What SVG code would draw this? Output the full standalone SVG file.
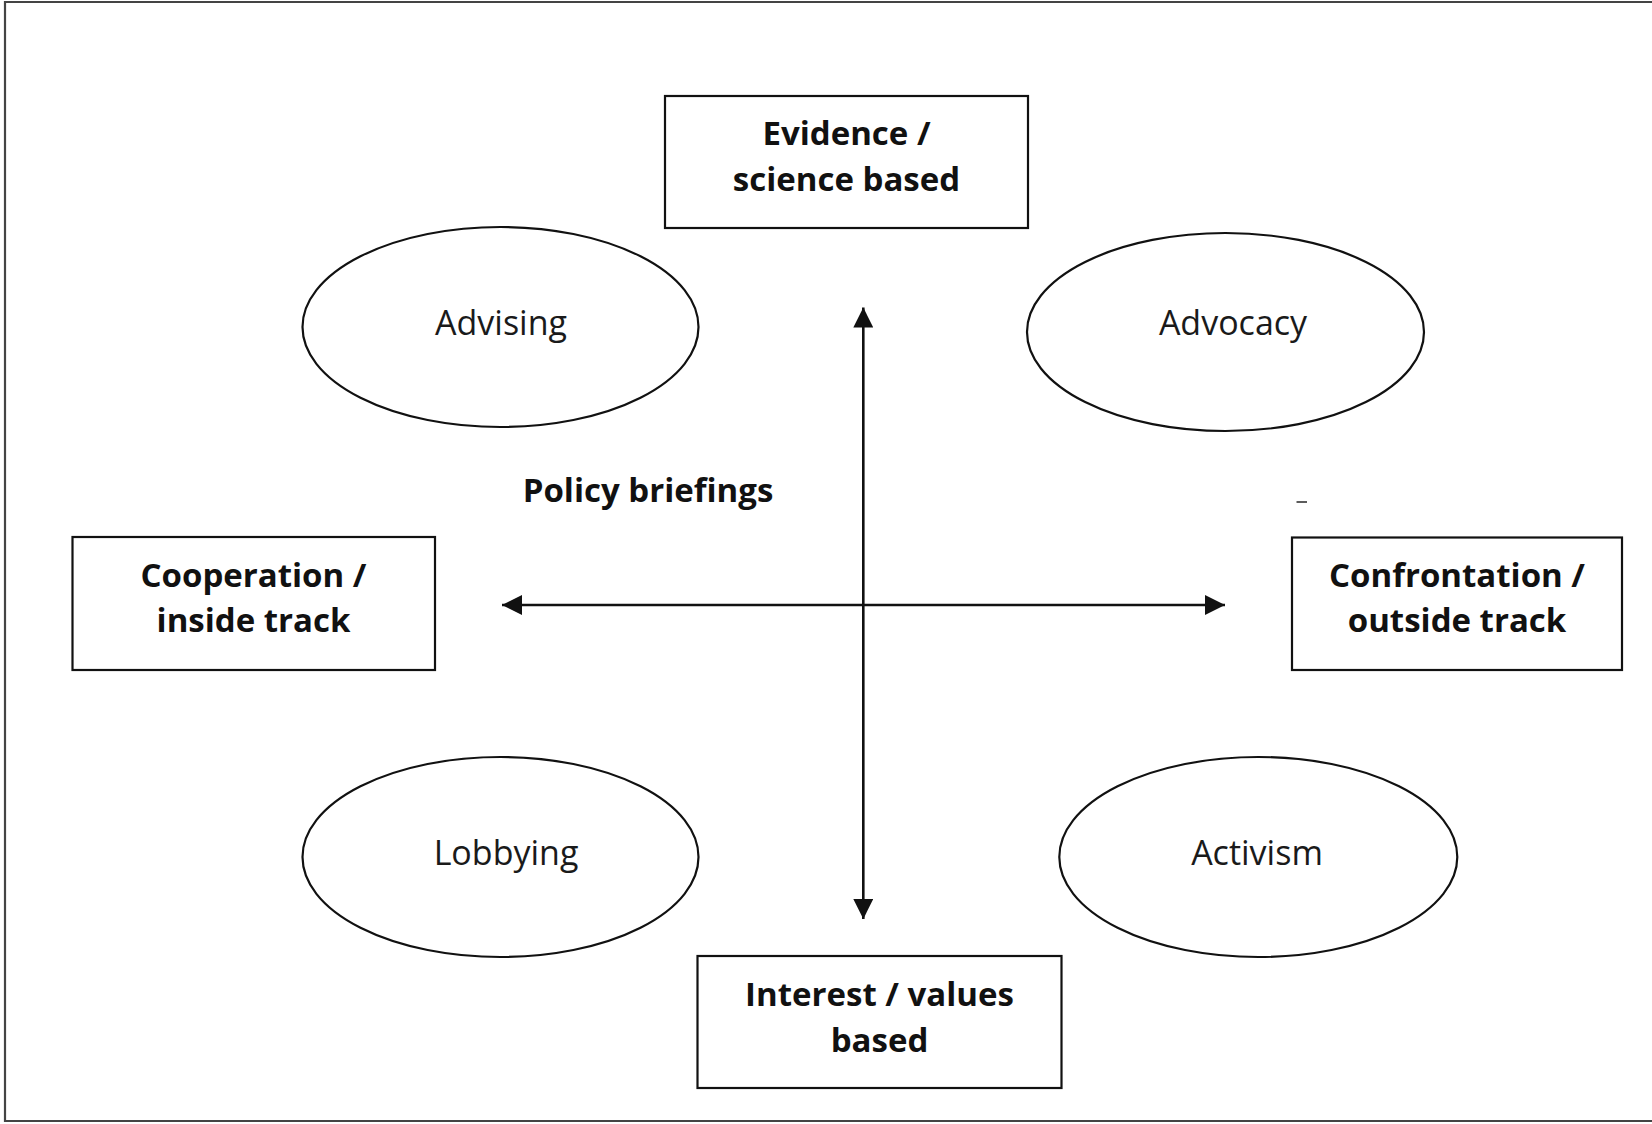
<svg xmlns="http://www.w3.org/2000/svg" width="1652" height="1124" viewBox="0 0 1652 1124">
<style>
  .box { fill: #ffffff; stroke: #111111; stroke-width: 2.2; }
  .ell { fill: #ffffff; stroke: #111111; stroke-width: 2.2; }
  .bold { font-family: "Open Sans", "Liberation Sans", sans-serif; font-weight: 700; font-size: 33px; fill: #111111; text-anchor: middle; }
  .reg { font-family: "Open Sans", "Liberation Sans", sans-serif; font-weight: 400; font-size: 34px; fill: #1a1a1a; text-anchor: middle; }
  .axis { stroke: #111111; stroke-width: 2.6; fill: none; }
</style>
<defs>
  <marker id="arrow" viewBox="0 0 20 20" refX="20" refY="10" markerWidth="20" markerHeight="20" markerUnits="userSpaceOnUse" orient="auto-start-reverse">
    <path d="M0,0 L20,10 L0,20 Z" fill="#111111"/>
  </marker>
</defs>
<rect x="0" y="0" width="1652" height="1124" fill="#ffffff"/>
<path d="M1652,2 H5 V1121 H1652" fill="none" stroke="#444444" stroke-width="2.2"/>

<g id="connectors">
  <line class="axis" x1="863.3" y1="307.5" x2="863.3" y2="919" marker-start="url(#arrow)" marker-end="url(#arrow)"/>
  <line class="axis" x1="502" y1="605" x2="1225" y2="605" marker-start="url(#arrow)" marker-end="url(#arrow)"/>
</g>

<g id="node-evidence">
  <rect class="box" x="665" y="96" width="363" height="132"/>
  <text class="bold" x="846.5" y="145">Evidence /</text>
  <text class="bold" x="846.5" y="191">science based</text>
</g>

<g id="node-interest">
  <rect class="box" x="697.5" y="956" width="364" height="132"/>
  <text class="bold" x="879.5" y="1006">Interest / values</text>
  <text class="bold" x="879.5" y="1052">based</text>
</g>

<g id="node-cooperation">
  <rect class="box" x="72.5" y="537" width="362.5" height="133"/>
  <text class="bold" x="253.5" y="587">Cooperation /</text>
  <text class="bold" x="253.5" y="632">inside track</text>
</g>

<g id="node-confrontation">
  <rect class="box" x="1292" y="537.5" width="330" height="132.5"/>
  <text class="bold" x="1457" y="587">Confrontation /</text>
  <text class="bold" x="1457" y="632">outside track</text>
</g>

<g id="node-advising">
  <ellipse class="ell" cx="500.5" cy="327" rx="198" ry="100"/>
  <text class="reg" x="501" y="335">Advising</text>
</g>

<g id="node-advocacy">
  <ellipse class="ell" cx="1225.5" cy="332" rx="198.5" ry="99"/>
  <text class="reg" x="1233" y="335">Advocacy</text>
</g>

<g id="node-lobbying">
  <ellipse class="ell" cx="500.5" cy="857" rx="198" ry="100"/>
  <text class="reg" x="506" y="865">Lobbying</text>
</g>

<g id="node-activism">
  <ellipse class="ell" cx="1258.3" cy="857" rx="199" ry="100"/>
  <text class="reg" x="1257" y="865">Activism</text>
</g>

<g id="label-policy">
  <text class="bold" x="648" y="502">Policy briefings</text>
</g>

<line x1="1296.5" y1="502" x2="1307" y2="502" stroke="#333333" stroke-width="1.6"/>
</svg>
